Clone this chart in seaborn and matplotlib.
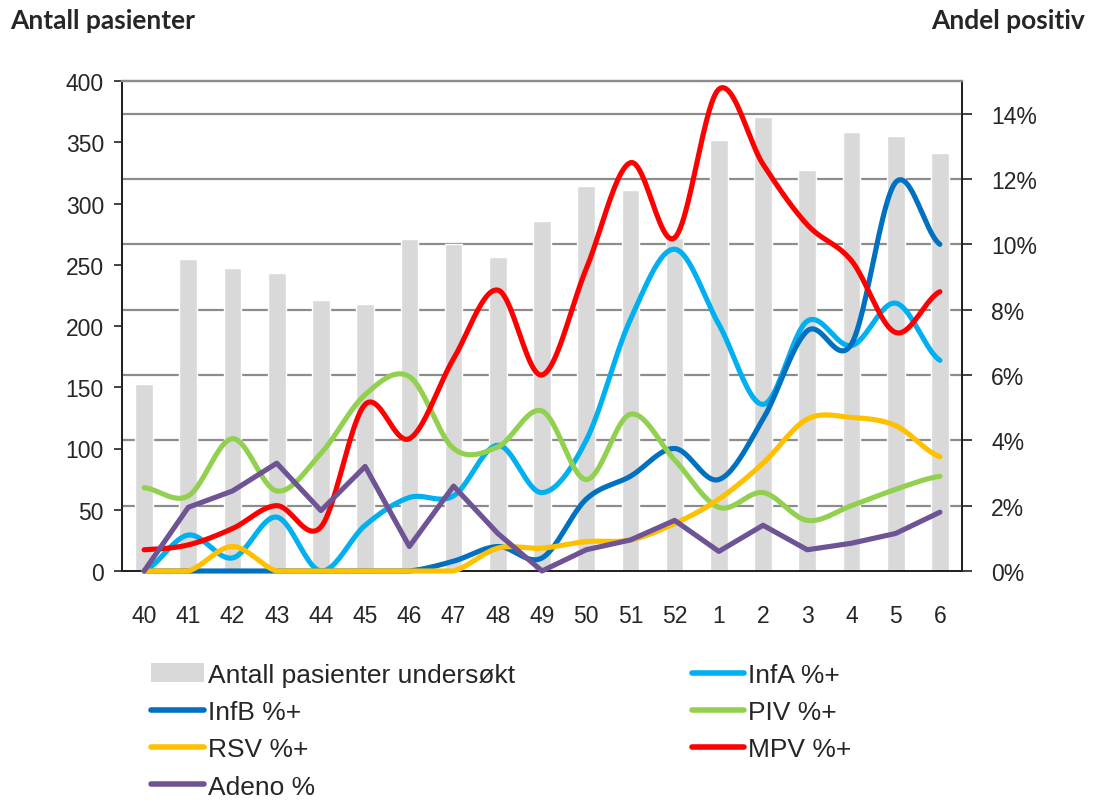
import numpy as np
import pandas as pd
import matplotlib
matplotlib.use("Agg")
import matplotlib.pyplot as plt
import seaborn as sns
from matplotlib.ticker import FixedLocator, PercentFormatter
from matplotlib.patches import Patch
from matplotlib.lines import Line2D

# data
weeks = ["40", "41", "42", "43", "44", "45", "46", "47", "48", "49",
         "50", "51", "52", "1", "2", "3", "4", "5", "6"]
patients = [153, 255, 247, 243, 221, 218, 271, 267, 256, 286,
            314, 311, 272, 352, 371, 327, 358, 355, 341]
inf_a = [0.0, 1.1, 0.4, 1.65, 0.0, 1.4, 2.25, 2.3, 3.85, 2.4,
         4.0, 7.7, 9.85, 7.55, 5.1, 7.65, 6.9, 8.2, 6.45]
inf_b = [0.0, 0.0, 0.0, 0.0, 0.0, 0.0, 0.0, 0.3, 0.75, 0.4,
         2.2, 2.9, 3.75, 2.8, 4.65, 7.35, 6.95, 11.9, 10.0]
piv = [2.55, 2.3, 4.05, 2.45, 3.6, 5.4, 5.95, 3.75, 3.8, 4.9,
       2.8, 4.8, 3.4, 1.95, 2.4, 1.55, 2.0, 2.5, 2.9]
rsv = [0.0, 0.0, 0.75, 0.0, 0.0, 0.0, 0.0, 0.0, 0.7, 0.7,
       0.9, 0.95, 1.45, 2.2, 3.3, 4.65, 4.7, 4.45, 3.5]
mpv = [0.65, 0.8, 1.3, 2.0, 1.35, 5.1, 4.05, 6.5, 8.6, 6.0,
       9.25, 12.5, 10.2, 14.75, 12.45, 10.6, 9.5, 7.3, 8.55]
adeno = [0.0, 1.95, 2.45, 3.3, 1.85, 3.2, 0.75, 2.6, 1.15, 0.0,
         0.65, 0.95, 1.55, 0.6, 1.4, 0.65, 0.85, 1.15, 1.8]

series = [
    ("InfA %+", inf_a, "#00B0F0", True),
    ("InfB %+", inf_b, "#0070C0", True),
    ("PIV %+", piv, "#92D050", True),
    ("RSV %+", rsv, "#FFC000", True),
    ("MPV %+", mpv, "#FF0000", True),
    ("Adeno %", adeno, "#6E5494", False),
]


def smooth(vals, n=24):
    # Excel-style smoothed line (Bezier through the points)
    y = np.asarray(vals, float) / 100
    p = np.concatenate([[y[0]], y, [y[-1]]])
    xs, ys = [], []
    t = np.linspace(0, 1, n, endpoint=False)
    for i in range(len(y) - 1):
        p0, p1, p2, p3 = p[i], p[i + 1], p[i + 2], p[i + 3]
        c1 = p1 + (p2 - p0) / 6
        c2 = p2 - (p3 - p1) / 6
        b = (1 - t) ** 3 * p1 + 3 * (1 - t) ** 2 * t * c1 + 3 * (1 - t) * t ** 2 * c2 + t ** 3 * p2
        xs.append(i + t)
        ys.append(b)
    xs.append([len(y) - 1])
    ys.append([y[-1]])
    return np.concatenate(xs), np.clip(np.concatenate(ys), 0, None)


sns.set_style("white")
plt.rcParams["font.family"] = ["Liberation Sans", "DejaVu Sans"]

fig = plt.figure(figsize=(10.93, 8.04), dpi=100)
ax = fig.add_axes([122 / 1093, 1 - 572 / 804, 840 / 1093, 490 / 804])

df = pd.DataFrame({"week": weeks, "patients": patients})
sns.barplot(data=df, x="week", y="patients", order=weeks, color="#D9D9D9",
            saturation=1, width=0.4, ax=ax, zorder=2)
ax.set_xlim(-0.5, len(weeks) - 0.5)
ax.set_ylim(0, 400)
ax.set_yticks(range(0, 401, 50))
ax.set_xlabel("")
ax.set_ylabel("")

# grid lines follow the right-axis ticks, drawn behind the bars
pct_ticks = np.arange(0, 15, 2)
ax.yaxis.set_minor_locator(FixedLocator([p / 15 * 400 for p in pct_ticks[1:]]))
ax.grid(False)
ax.grid(True, which="minor", axis="y", color="#8C8C8C", lw=1.6, zorder=0)
ax.tick_params(axis="y", which="minor", length=0)
ax.set_axisbelow(True)

ax.set_xticks(range(len(weeks)))
ax.set_xticklabels(weeks)
ax.xaxis.set_minor_locator(FixedLocator(np.arange(-0.5, len(weeks), 1)))
ax.tick_params(axis="x", which="major", length=0, pad=24, labelsize=16.5)
ax.tick_params(axis="x", which="minor", length=6, width=1.2, color="#222222", direction="out")
ax.tick_params(axis="y", which="major", length=6, width=1.2, color="#222222",
               direction="out", pad=7, labelsize=16.5, left=True)

ax2 = ax.twinx()
for name, vals, col, sm in series:
    if sm:
        xs, ys = smooth(vals)
    else:
        xs, ys = np.arange(len(vals)), np.asarray(vals) / 100
    line_df = pd.DataFrame({"x": xs, "y": ys})
    sns.lineplot(data=line_df, x="x", y="y", color=col, lw=3.7, ax=ax2,
                 estimator=None, sort=False, clip_on=False, zorder=3)
ax2.set_ylim(0, 0.15)
ax2.set_yticks(pct_ticks / 100)
ax2.yaxis.set_major_formatter(PercentFormatter(1.0, decimals=0))
ax2.set_xlim(-0.5, len(weeks) - 0.5)
ax2.set_xlabel("")
ax2.set_ylabel("")
ax2.tick_params(axis="y", length=7, width=1.2, color="#222222", direction="out",
                pad=14, labelsize=16.5, right=True)
ax2.grid(False)

for a in (ax, ax2):
    a.spines["top"].set_color("#8C8C8C")
    a.spines["top"].set_linewidth(1.6)
    for s in ("left", "right", "bottom"):
        a.spines[s].set_color("#222222")
        a.spines[s].set_linewidth(1.4)

fig.text(10 / 1093, 1 - 21 / 804, "Antall pasienter", ha="left", va="center",
         fontsize=19, fontweight="bold", family=["Lato", "DejaVu Sans"])
fig.text(1085 / 1093, 1 - 21 / 804, "Andel positiv", ha="right", va="center",
         fontsize=19, fontweight="bold", family=["Lato", "DejaVu Sans"])

handles = [Patch(facecolor="#D9D9D9", edgecolor="none")]
labels = ["Antall pasienter undersøkt"]
order = ["InfB %+", "RSV %+", "Adeno %", "InfA %+", "PIV %+", "MPV %+"]
lookup = {s[0]: s[2] for s in series}
for name in order:
    handles.append(Line2D([], [], color=lookup[name], lw=4))
    labels.append(name)

fig.legend(handles, labels, ncol=2, loc="upper left",
           bbox_to_anchor=(151 / 1093, 1 - 664 / 804), frameon=False,
           fontsize=19, handlelength=2.0, handleheight=0.72, handletextpad=0.15,
           columnspacing=6.7, labelspacing=0.5, borderpad=0, borderaxespad=0)

fig.savefig("out.png", dpi=100)
